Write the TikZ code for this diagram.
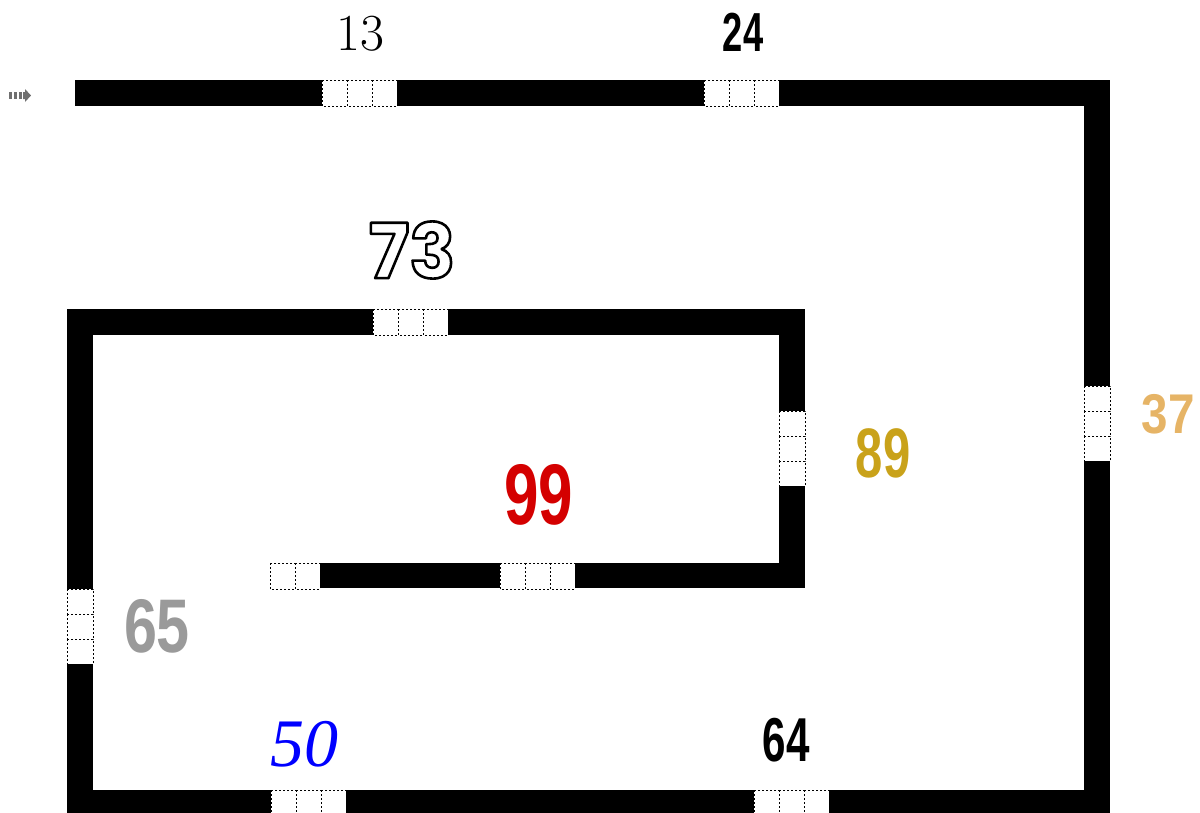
\documentclass[tikz,border=0pt]{standalone}
\usepackage{fontspec}
\usepackage{graphicx}
\newfontfamily\libsans{Liberation Sans}
\newfontfamily\libserif{Liberation Serif}
\newfontfamily\pop{Poppins}
\definecolor{goldc}{HTML}{C9A21A}
\definecolor{tanc}{HTML}{E6B466}
\definecolor{redc}{HTML}{D40000}
\definecolor{greyc}{HTML}{9A9A9A}
\definecolor{arrowc}{HTML}{707070}
\tikzset{
  wall/.style={fill=black,draw=none},
  cell/.style={draw=black,dash pattern=on 2pt off 2pt,line width=1pt,fill=white},
  lbl/.style={inner sep=0pt,anchor=center},
}
\newcommand\hdoor[3]{% x start, y top, cells
  \foreach \k in {1,...,#3}{\draw[cell] ({#1+(\k-1)*25},#2) rectangle ({#1+\k*25},{#2+26});}}
\newcommand\vdoor[3]{% x left, y start, cells
  \foreach \k in {1,...,#3}{\draw[cell] (#1,{#2+(\k-1)*25}) rectangle ({#1+26},{#2+\k*25});}}
\begin{document}
\begin{tikzpicture}[x=1pt,y=-1pt]
\useasboundingbox (0,0) rectangle (1200,812);
\clip (0,0) rectangle (1200,812);
% walls
\fill[wall] (75,80) rectangle (1110,106);
\fill[wall] (1084,80) rectangle (1110,816);
\fill[wall] (67,790) rectangle (1110,816);
\fill[wall] (67,309) rectangle (93,816);
\fill[wall] (67,309) rectangle (805,335);
\fill[wall] (779,309) rectangle (805,588);
\fill[wall] (320,563) rectangle (805,588);
% doors
\hdoor{322}{80}{3}
\hdoor{704}{80}{3}
\hdoor{373}{309}{3}
\vdoor{779}{411}{3}
\vdoor{1084}{386}{3}
\hdoor{500}{563}{3}
\hdoor{270}{563}{2}
\vdoor{67}{589}{3}
\hdoor{271}{790}{3}
\hdoor{754}{790}{3}
% entry arrow
\fill[arrowc] (9,92) rectangle (12,99);
\fill[arrowc] (14,92) rectangle (17,99);
\fill[arrowc] (19,92) rectangle (22,99);
\fill[arrowc] (23,92) -- (25,92) -- (25,89) -- (31,95.5) -- (25,102) -- (25,99) -- (23,99) -- cycle;
% labels
\node[lbl] (n13) at (360,34) {\fontsize{52}{52}\selectfont 13};
\node[lbl] (n24) at (743,32) {\scalebox{0.66}[1]{\libsans\bfseries\fontsize{55}{55}\selectfont 24}};
\node[lbl] (n73) at (412,250) {\pop\bfseries\fontsize{76}{76}\selectfont\special{pdf:literal direct 1 Tr 2.6 w 0 G 1 J 1 j}73\special{pdf:literal direct 0 Tr}};
\node[lbl,text=redc] (n99) at (539,495) {\scalebox{0.72}[1]{\libsans\bfseries\fontsize{86}{86}\selectfont 99}};
\node[lbl,text=goldc] (n89) at (883,453) {\scalebox{0.7}[1]{\libsans\bfseries\fontsize{70}{70}\selectfont 89}};
\node[lbl,text=tanc] (n37) at (1168,414) {\scalebox{0.85}[1]{\libsans\bfseries\fontsize{56}{56}\selectfont 37}};
\node[lbl,text=greyc] (n65) at (157,626) {\scalebox{0.78}[1]{\libsans\bfseries\fontsize{76}{76}\selectfont 65}};
\node[lbl,text=blue] (n50) at (304,744) {\libserif\itshape\fontsize{68}{68}\selectfont 50};
\node[lbl] (n64) at (786,740) {\scalebox{0.68}[1]{\libsans\bfseries\fontsize{62}{62}\selectfont 64}};
\end{tikzpicture}
\end{document}
